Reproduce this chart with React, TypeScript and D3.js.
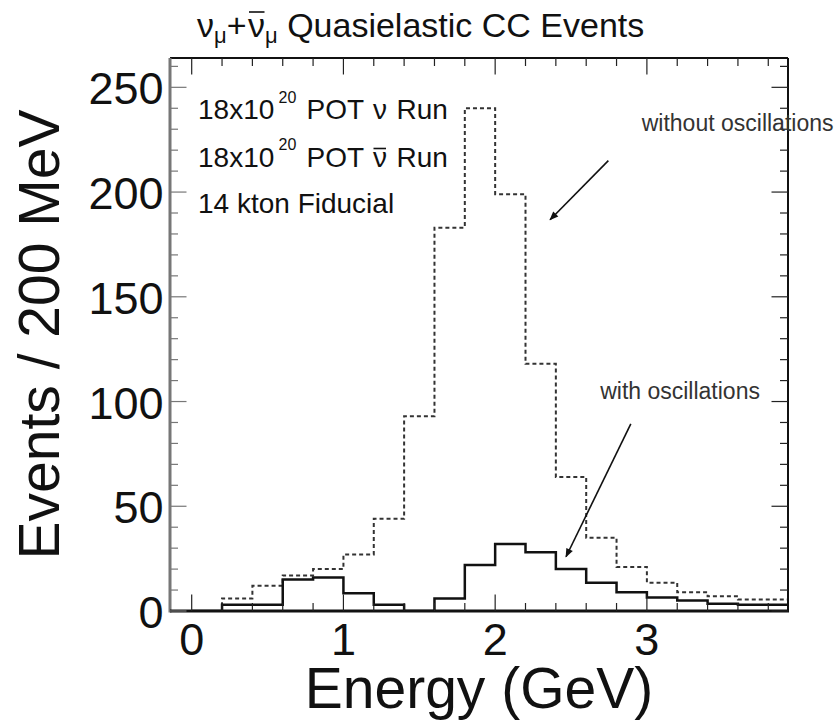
import React from 'react';
import * as d3 from 'd3';

// histogram bins (lower edges, GeV) and contents
const binLow = [0.0, 0.2, 0.4, 0.6, 0.8, 1.0, 1.2, 1.4, 1.6, 1.8, 2.0, 2.2, 2.4, 2.6, 2.8, 3.0, 3.2, 3.4, 3.6, 3.8];
const binWidth = 0.2;
const noOscillation = [0, 6, 12, 17, 20, 27, 44, 93, 183, 240, 199, 118, 64, 35, 21, 13.5, 9, 7, 5.5, 5.5];
const withOscillation = [0, 3, 3, 15, 16, 8.5, 3, 0, 6, 22, 32, 28, 20, 13.5, 9, 6.5, 5, 3.5, 3, 3];

const xTickLabels = [0, 1, 2, 3];
const yTickLabels = [0, 50, 100, 150, 200, 250];

const FONT = "'Liberation Sans', Arial, Helvetica, sans-serif";
const W = 838;
const H = 728;
const frame = { left: 170, right: 788, top: 58, bottom: 611 };

const x = d3.scaleLinear().domain([-0.143, 3.93]).range([frame.left, frame.right]);
const y = d3.scaleLinear().domain([0, 264]).range([frame.bottom, frame.top]);

function stepPath(values: number[]) {
  const pts: [number, number][] = values.map((v, i) => [binLow[i], v]);
  pts.push([binLow[binLow.length - 1] + binWidth, values[values.length - 1]]);
  return d3.line<[number, number]>()
    .x(d => x(d[0]))
    .y(d => y(d[1]))
    .curve(d3.curveStepAfter)(pts) as string;
}

const xMinor = d3.range(0, 20).map(i => +(i * 0.2).toFixed(1));
const yMinor = d3.range(0, 261, 10);

export default function App() {
  const majLen = 16.5;
  const minLen = 8;
  return (
    <svg width={W} height={H} style={{ position: 'absolute', left: 0, top: 0, background: '#fff' }}
      fontFamily={FONT}>
      <defs>
        <clipPath id="plotArea">
          <rect x={frame.left} y={frame.top} width={frame.right - frame.left} height={frame.bottom - frame.top} />
        </clipPath>
        <marker id="arrowHead" viewBox="0 0 10 10" refX="9" refY="5" markerWidth="11" markerHeight="9"
          markerUnits="userSpaceOnUse" orient="auto">
          <path d="M0,1 L10,5 L0,9 Z" fill="#111" />
        </marker>
      </defs>

      {/* title */}
      <text y={37.3} fontSize={34} fill="#111">
        <tspan x={197}>ν</tspan>
        <tspan fontSize={22} dy={5.7}>μ</tspan>
        <tspan dy={-5.7}>+</tspan>
        <tspan x={248}>ν</tspan>
        <tspan fontSize={22} dy={5.7}>μ</tspan>
        <tspan dy={-5.7}> Quasielastic CC Events</tspan>
      </text>
      <line x1={249} x2={264.5} y1={12} y2={12} stroke="#111" strokeWidth={1.6} />

      {/* histograms */}
      <g clipPath="url(#plotArea)" fill="none">
        <path d={stepPath(noOscillation)} stroke="#333" strokeWidth={2} strokeDasharray="4,3" />
        <path d={stepPath(withOscillation)} stroke="#111" strokeWidth={2.5} />
      </g>

      {/* frame */}
      <line x1={frame.left} x2={frame.right} y1={frame.top} y2={frame.top} stroke="#111" strokeWidth={2} />
      <line x1={frame.right} x2={frame.right} y1={frame.top} y2={frame.bottom} stroke="#111" strokeWidth={2} />
      <line x1={frame.left} x2={frame.left} y1={frame.top} y2={frame.bottom + 1.5} stroke="#777" strokeWidth={3} />
      <line x1={frame.left} x2={frame.right + 1} y1={frame.bottom} y2={frame.bottom} stroke="#111" strokeWidth={3} />

      {/* x ticks bottom & top */}
      <g stroke="#222" strokeWidth={1.2}>
        {xMinor.map(t => {
          const len = Math.abs(t - Math.round(t)) < 1e-6 ? majLen : minLen;
          return (
            <g key={t}>
              <line x1={x(t)} x2={x(t)} y1={frame.bottom} y2={frame.bottom - len} />
              <line x1={x(t)} x2={x(t)} y1={frame.top} y2={frame.top + len} />
            </g>
          );
        })}
      </g>
      {/* y ticks left & right */}
      <g strokeWidth={1.2}>
        {yMinor.map(t => {
          const len = t % 50 === 0 ? majLen : minLen;
          return (
            <g key={t}>
              <line x1={frame.left} x2={frame.left + len} y1={y(t)} y2={y(t)} stroke="#777" />
              <line x1={frame.right} x2={frame.right - len} y1={y(t)} y2={y(t)} stroke="#222" />
            </g>
          );
        })}
      </g>

      {/* tick labels */}
      <g fontSize={45} fill="#111">
        {xTickLabels.map(t => (
          <text key={t} x={x(t)} y={655} textAnchor="middle">{t}</text>
        ))}
        {yTickLabels.map(t => (
          <text key={t} x={163.5} y={y(t) + 17} textAnchor="end">{t}</text>
        ))}
      </g>

      {/* axis titles */}
      <text x={(frame.left + frame.right) / 2} y={708} fontSize={57} textAnchor="middle" fill="#111">Energy (GeV)</text>
      <text transform={`translate(59, ${(frame.top + frame.bottom) / 2}) rotate(-90)`} fontSize={57}
        textAnchor="middle" fill="#111">Events / 200 MeV</text>

      {/* legend */}
      <g fontSize={28} fill="#111">
        <text y={119.3}>
          <tspan x={198}>18x10</tspan>
          <tspan x={278.5} y={102.7} fontSize={16}>20</tspan>
          <tspan x={306.5} y={119.3}>POT</tspan>
          <tspan x={373}>ν</tspan>
          <tspan x={396.5}>Run</tspan>
        </text>
        <text y={166.7}>
          <tspan x={198}>18x10</tspan>
          <tspan x={278.5} y={150} fontSize={16}>20</tspan>
          <tspan x={306.5} y={166.7}>POT</tspan>
          <tspan x={373}>ν</tspan>
          <tspan x={396.5}>Run</tspan>
        </text>
        <line x1={373.5} x2={386} y1={148.5} y2={148.5} stroke="#111" strokeWidth={1.6} />
        <text x={198} y={212.7}>14 kton Fiducial</text>
      </g>

      {/* annotations */}
      <g fontSize={23} fill="#333">
        <text x={x(2.966)} y={y(229.2)}>without oscillations</text>
        <text x={x(2.692)} y={y(101.1)}>with oscillations</text>
      </g>
      <g stroke="#111" strokeWidth={1.6}>
        <line x1={x(2.746)} y1={y(215)} x2={x(2.362)} y2={y(186.8)} markerEnd="url(#arrowHead)" />
        <line x1={x(2.894)} y1={y(89.3)} x2={x(2.467)} y2={y(25.9)} markerEnd="url(#arrowHead)" />
      </g>
    </svg>
  );
}
